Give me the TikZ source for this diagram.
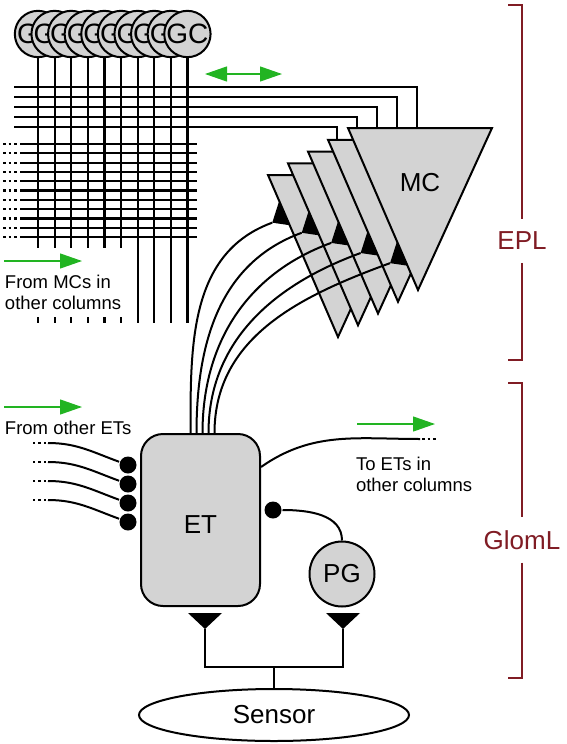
\documentclass[tikz,border=0pt]{standalone}
\usepackage{fontspec}
\setmainfont{Liberation Sans}
\usetikzlibrary{positioning}
\usetikzlibrary{calc}
\usetikzlibrary{arrows.meta}
\usetikzlibrary{shapes.geometric}

\definecolor{cellgray}{RGB}{211,211,211}
\definecolor{flowgreen}{RGB}{34,180,34}
\definecolor{layerred}{RGB}{128,28,36}

\begin{document}
\begin{tikzpicture}[x=1pt,y=1pt,line width=2pt,
    >={Triangle[length=22pt,width=15pt]},
    cell/.style={draw,fill=cellgray,circle,minimum size=46pt,inner sep=0pt,font=\fontsize{28}{28}\selectfont},
    fiber/.style={line width=2.2pt},
    dots/.style={line width=2.2pt,dash pattern=on 2.5pt off 3pt},
    flow/.style={flowgreen,line width=1.2pt},
    note/.style={anchor=north west,align=left,inner sep=0pt,font=\fontsize{18.5}{21.5}\selectfont},
    big/.style={font=\fontsize{26}{26}\selectfont},
    layer/.style={text=layerred,inner xsep=0pt,inner ysep=12pt,font=\fontsize{26}{26}\selectfont},
    bracket/.style={layerred,line width=2pt},
    knob/.style={circle,fill=black,minimum size=17pt,inner sep=0pt}]
    \useasboundingbox (0,0) rectangle (566,-744);

    % granule cells and their dendrites
    \foreach \i in {0,...,9}
	\path (38+16.6*\i,-34) coordinate (gc\i);
    \foreach \i in {0,...,5} {
	\draw [fiber] (gc\i) -- ++(0,-214);
	\draw [fiber] ($(gc\i)+(0,-283)$) -- ++(0,-6);
    }
    \foreach \i in {6,...,9}
	\draw [fiber] (gc\i) -- ++(0,-289);
    \foreach \i in {0,...,9}
	\path (gc\i) node [cell] (gcc\i) {GC};

    % lateral dendrites from other columns
    \foreach \j in {0,...,10} {
	\draw [fiber] (20,-144-9.3*\j) -- (197,-144-9.3*\j);
	\draw [dots] (3,-144-9.3*\j) -- (17,-144-9.3*\j);
    }

    % mitral cells
    \foreach \k in {0,...,4} {
	\coordinate (mc\k-tl) at (348-20*\k,-128-11.75*\k);
	\coordinate (mc\k-tr) at (492-20*\k,-128-11.75*\k);
	\coordinate (mc\k-ap) at (418-20*\k,-290-11.75*\k);
	\coordinate (mc\k-in) at ($(mc\k-tl)!0.48!(mc\k-tr)$);
    }
    \foreach \k in {0,...,4}
	\draw [fiber] (14,-87-10*\k) -| (mc\k-in);
    \foreach \k in {4,...,0}
	\filldraw [fill=cellgray,line join=miter] (mc\k-tl) -- (mc\k-tr) -- (mc\k-ap) -- cycle;
    \path ($(mc0-tl)!0.5!(mc0-tr)+(0,-55)$) node [big] (mclab) {MC};
    \draw [flow,<->] (205,-74) -- (282,-74);

    % external tufted cell
    \path (200.5,-520) node [draw,fill=cellgray,rounded corners=22pt,minimum width=119pt,
	minimum height=172pt,text height=26.6pt,big] (et) {ET};
    \foreach \k/\dx in {4/-10,3/-4,2/2,1/8,0/14} {
	\pgfmathsetmacro\ta{0.16+0.135*(4-\k)}
	\pgfmathsetmacro\tb{\ta+0.15}
	\coordinate (syn\k-a) at ($(mc\k-tl)!\ta!(mc\k-ap)$);
	\coordinate (syn\k-b) at ($(mc\k-tl)!\tb!(mc\k-ap)$);
	\coordinate (syn\k) at ($(syn\k-a)!0.65!(syn\k-b)!15pt!-90:(syn\k-b)$);
	\draw ($(et.north)+(\dx,0)$) to[out=90,in=200] (syn\k);
	\fill (syn\k-a) -- (syn\k-b) -- (syn\k) -- cycle;
    }

    % inputs from other ETs
    \foreach \n/\y in {1/465,2/484,3/503,4/522} {
	\path (128,-\y) node [knob] (in\n) {};
	\draw (in\n) to[out=160,in=0] (48,-\y+22);
	\draw [dots] (46,-\y+22) -- (32,-\y+22);
    }
    \path (4,-420) node [note] (fromet) {From other ETs};
    \draw [flow,->] ([yshift=13pt]fromet.north west) -- ++(78,0);
    \path (4,-274) node [note] (frommc) {From MCs in\\other columns};
    \draw [flow,->] ([yshift=13pt]frommc.north west) -- ++(78,0);

    % output to ETs in other columns
    \coordinate (outend) at (420,-439);
    \draw ($(et.north east)+(0,-34)$) to[out=35,in=180] (outend);
    \draw [dots] ($(outend)+(2,0)$) -- ++(15,0);
    \path (355,-456) node [note] (toet) {To ETs in\\other columns};
    \draw [flow,->] ([yshift=32pt,xshift=2pt]toet.north west) -- ++(78,0);

    % periglomerular cell
    \path (342,-574) node [draw,fill=cellgray,circle,minimum size=65pt,inner sep=0pt,big] (pg) {PG};
    \path (273,-510) node [knob] (pgk) {};
    \draw (pgk) to[out=0,in=90] (pg.north);

    % sensory input
    \path (274,-715) node [draw,ellipse,minimum width=270pt,minimum height=52pt,big] (sensor) {Sensor};
    \coordinate (etsyn) at (205,-629);
    \coordinate (pgsyn) at (343,-629);
    \fill (etsyn) -- ++(-17,16) -- ++(34,0) -- cycle;
    \fill (pgsyn) -- ++(-17,16) -- ++(34,0) -- cycle;
    \coordinate (junc) at (274,-667);
    \draw (etsyn) |- (junc) -| (pgsyn);
    \draw (junc) -- (sensor.north);

    % layers
    \path (522,-241) node [layer] (epl) {EPL};
    \draw [bracket] (508,-5) -| (epl.north);
    \draw [bracket] (epl.south) |- (508,-360);
    \path (522,-540) node [layer] (glom) {GlomL};
    \draw [bracket] (508,-383) -| (glom.north);
    \draw [bracket] (glom.south) |- (508,-678);
\end{tikzpicture}
\end{document}
